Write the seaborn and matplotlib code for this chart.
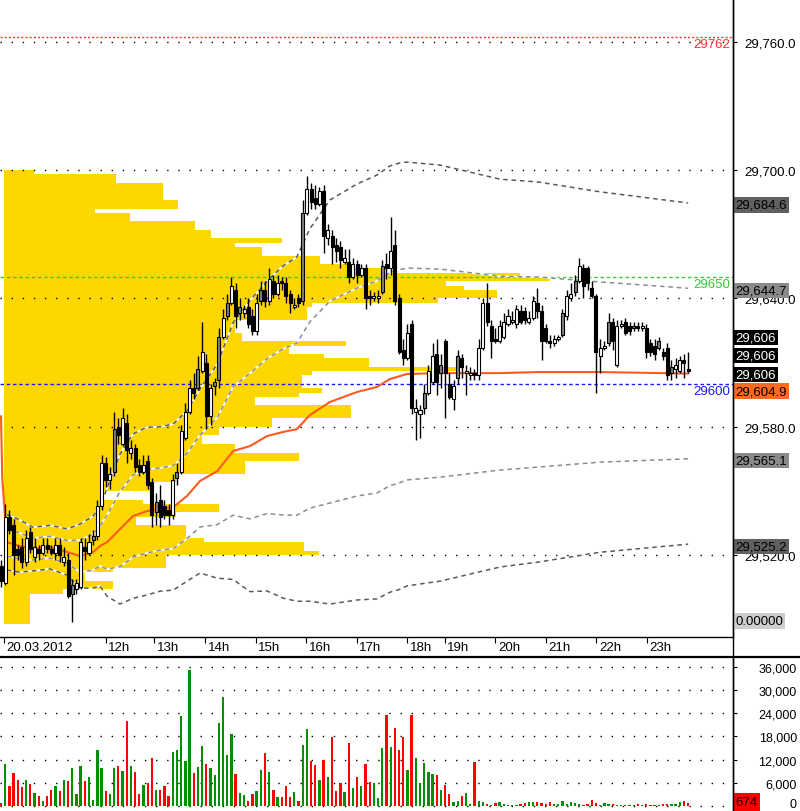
import numpy as np
import matplotlib
matplotlib.use("Agg")
import matplotlib.pyplot as plt
import matplotlib.transforms as mtransforms
from matplotlib.lines import Line2D
import seaborn as sns

# ---------------- data ----------------
bar_open = [29515, 29507, 29538, 29534, 29523, 29524, 29517, 29531, 29519, 29523,
            29521, 29525, 29523, 29521, 29525, 29517, 29518, 29502, 29504, 29505,
            29524, 29521, 29527, 29529, 29543, 29563, 29555, 29559, 29580, 29572,
            29582, 29568, 29570, 29562, 29559, 29564, 29554, 29540, 29546, 29543,
            29541, 29539, 29556, 29559, 29575, 29587, 29598, 29598, 29606, 29610,
            29585, 29599, 29602, 29622, 29632, 29638, 29644, 29633, 29633, 29636,
            29632, 29625, 29639, 29644, 29639, 29648, 29642, 29648, 29647, 29642,
            29636, 29640, 29639, 29680, 29691, 29687, 29684, 29690, 29668, 29669,
            29665, 29664, 29657, 29657, 29650, 29656, 29651, 29654, 29641, 29640,
            29640, 29643, 29656, 29654, 29665, 29640, 29616, 29612, 29628, 29587,
            29586, 29589, 29596, 29601, 29614, 29605, 29620, 29600, 29593, 29603,
            29612, 29605, 29604, 29605, 29604, 29617, 29638, 29627, 29621, 29620,
            29622, 29628, 29629, 29628, 29634, 29634, 29629, 29631, 29638, 29634,
            29626, 29620, 29619, 29621, 29623, 29632, 29640, 29643, 29648, 29654,
            29654, 29645, 29641, 29613, 29617, 29619, 29629, 29609, 29627, 29629,
            29627, 29626, 29627, 29626, 29626, 29619, 29618, 29617, 29615, 29617,
            29605, 29607, 29606, 29611, 29607]
bar_close = [29508, 29538, 29532, 29520, 29520, 29517, 29528, 29523, 29524, 29521,
             29525, 29523, 29521, 29525, 29520, 29519, 29501, 29506, 29507, 29526,
             29522, 29526, 29529, 29543, 29563, 29555, 29558, 29579, 29576, 29584,
             29569, 29570, 29561, 29559, 29562, 29553, 29539, 29545, 29538, 29539,
             29539, 29555, 29559, 29578, 29587, 29598, 29596, 29607, 29615, 29585,
             29598, 29601, 29622, 29631, 29638, 29646, 29632, 29636, 29635, 29628,
             29625, 29638, 29644, 29639, 29649, 29642, 29647, 29647, 29641, 29638,
             29637, 29638, 29680, 29691, 29685, 29684, 29690, 29669, 29672, 29664,
             29662, 29658, 29659, 29650, 29656, 29651, 29654, 29640, 29640, 29641,
             29641, 29655, 29654, 29662, 29639, 29615, 29612, 29624, 29589, 29589,
             29588, 29596, 29606, 29613, 29601, 29609, 29605, 29594, 29599, 29613,
             29608, 29606, 29605, 29604, 29617, 29638, 29629, 29620, 29620, 29627,
             29629, 29632, 29630, 29635, 29629, 29630, 29631, 29639, 29634, 29620,
             29620, 29619, 29621, 29622, 29633, 29641, 29642, 29648, 29655, 29646,
             29647, 29641, 29615, 29617, 29618, 29629, 29620, 29627, 29628, 29624,
             29625, 29627, 29626, 29627, 29615, 29615, 29614, 29620, 29613, 29604,
             29608, 29609, 29611, 29610, 29606]
bar_high = [29518, 29544, 29541, 29537, 29525, 29528, 29532, 29533, 29528, 29525,
            29528, 29528, 29525, 29528, 29528, 29524, 29521, 29509, 29509, 29528,
            29528, 29530, 29532, 29546, 29567, 29566, 29561, 29587, 29584, 29589,
            29586, 29574, 29572, 29565, 29567, 29567, 29556, 29549, 29553, 29546,
            29544, 29558, 29563, 29581, 29591, 29602, 29605, 29613, 29629, 29614,
            29600, 29603, 29626, 29635, 29642, 29650, 29647, 29640, 29637, 29640,
            29635, 29642, 29648, 29648, 29654, 29651, 29651, 29650, 29650, 29644,
            29640, 29642, 29686, 29697, 29694, 29693, 29692, 29693, 29675, 29672,
            29668, 29667, 29663, 29663, 29659, 29658, 29656, 29656, 29644, 29643,
            29644, 29658, 29661, 29678, 29672, 29642, 29621, 29628, 29630, 29593,
            29590, 29600, 29609, 29619, 29621, 29614, 29621, 29605, 29602, 29616,
            29614, 29609, 29608, 29607, 29621, 29640, 29647, 29630, 29626, 29630,
            29633, 29635, 29634, 29637, 29637, 29636, 29634, 29641, 29645, 29637,
            29628, 29623, 29623, 29623, 29635, 29644, 29647, 29651, 29659, 29656,
            29655, 29648, 29642, 29621, 29620, 29633, 29631, 29630, 29630, 29631,
            29629, 29629, 29629, 29629, 29628, 29621, 29621, 29622, 29617, 29619,
            29611, 29612, 29613, 29614, 29615]
bar_low = [29505, 29506, 29530, 29511, 29518, 29514, 29515, 29521, 29517, 29518,
           29520, 29521, 29520, 29518, 29517, 29515, 29500, 29489, 29502, 29504,
           29518, 29520, 29525, 29527, 29541, 29552, 29551, 29557, 29572, 29571,
           29563, 29565, 29559, 29557, 29558, 29551, 29533, 29534, 29533, 29537,
           29534, 29537, 29553, 29558, 29574, 29586, 29593, 29597, 29605, 29579,
           29581, 29595, 29598, 29621, 29630, 29637, 29626, 29630, 29631, 29626,
           29623, 29623, 29637, 29636, 29637, 29640, 29641, 29644, 29638, 29633,
           29635, 29636, 29637, 29679, 29682, 29682, 29683, 29661, 29665, 29656,
           29657, 29654, 29656, 29647, 29649, 29647, 29650, 29635, 29637, 29639,
           29638, 29642, 29649, 29651, 29637, 29614, 29609, 29611, 29586, 29574,
           29575, 29586, 29595, 29600, 29595, 29598, 29584, 29593, 29588, 29600,
           29603, 29595, 29602, 29602, 29602, 29616, 29627, 29612, 29619, 29619,
           29621, 29627, 29628, 29626, 29628, 29628, 29628, 29630, 29631, 29611,
           29619, 29617, 29618, 29620, 29622, 29630, 29639, 29641, 29647, 29640,
           29644, 29640, 29596, 29605, 29616, 29618, 29616, 29608, 29626, 29623,
           29623, 29625, 29625, 29625, 29612, 29613, 29611, 29616, 29611, 29602,
           29602, 29603, 29605, 29603, 29605]
bar_volume = [700, 10800, 5200, 8500, 6800, 4800, 6800, 5600, 3300, 2600,
              1300, 2600, 4200, 5200, 3900, 6800, 6500, 9700, 3000, 10200,
              6500, 7400, 1600, 14600, 9700, 3900, 3000, 9700, 10200, 9100,
              22100, 10200, 8700, 3000, 5400, 5900, 12300, 4200, 4200, 5000,
              2600, 13900, 14600, 23400, 11700, 35300, 8500, 10000, 15400, 10800,
              9700, 8000, 21500, 28400, 13200, 18600, 8200, 3300, 2800, 1300,
              3000, 3900, 9400, 13700, 8700, 4200, 2200, 2200, 5000, 2200,
              3600, 1300, 15800, 19900, 11700, 10600, 6800, 12000, 7400, 17800,
              3900, 5900, 3600, 16300, 4500, 7400, 5200, 10800, 6200, 5900,
              1900, 14900, 23600, 15200, 20100, 14600, 17800, 9400, 23600, 12300,
              5900, 11100, 8800, 8200, 8000, 4200, 5400, 3000, 1000, 1300,
              2600, 3300, 400, 11300, 1300, 1000,
              430, 170, 600, 1000, 430, 260, 260, 260, 430, 700,
              870, 870, 1000, 700, 430, 870, 430, 430, 1300, 430,
              870, 700, 430, 260, 430, 1560, 700, 260, 700, 430,
              430, 260, 260, 260, 260, 260, 430, 260, 430, 260,
              260, 260, 430, 430, 430, 430, 870, 1130, 674]

vwap_bar = [0.0, 0.3, 1.4, 4.5, 7.6, 11.7, 15.8, 18.9, 22.0, 23.6, 25.3, 28.4,
            31.5, 34.8, 37.9, 41.1, 44.4, 47.5, 51.6, 55.4, 59.4, 63.5, 67.3,
            70.6, 73.7, 78.5, 85.0, 89.7, 92.8, 95.2, 96.9, 104.8, 119.1, 128.2,
            143.0, 164.0]
vwap_value = [29585, 29556, 29526.1, 29524.3, 29522.9, 29523.8, 29521.5, 29519.6,
              29521.5, 29524.3, 29526.1, 29532.2, 29538.3, 29540.6, 29541.6,
              29542.5, 29547.7, 29554.7, 29559.3, 29568.7, 29571.0, 29575.7,
              29577.6, 29578.9, 29585.5, 29591.6, 29596.3, 29598.6, 29602.3,
              29603.7, 29604.7, 29605.1, 29605.1, 29605.6, 29605.6, 29604.9]
# standard deviation of the bands, from the third VWAP point on
band_sigma = [6.5, 6.1, 5.1, 5.1, 5.4, 7.5, 8.4, 9.3, 12.6, 17.5, 19.2, 19.6,
              19.2, 19.4, 19.9, 21.5, 25.0, 30.0, 34.0, 36.2, 38.8, 40.2, 43.5,
              47.2, 48.6, 49.5, 49.8, 49.8, 49.5, 48.6, 45.3, 44.4, 42.1, 39.85]

profile_price = np.arange(29699, 29487, -2)
profile_volume = [30, 113, 113, 160, 160, 160, 160, 175, 175, 92,
                  127, 127, 192, 192, 209, 209, 280, 233, 260, 260,
                  318, 318, 350, 383, 520, 550, 445, 463, 497, 497,
                  437, 310, 305, 305, 305, 233, 233, 233, 240, 240,
                  345, 287, 287, 322, 368, 368, 457, 310, 300, 300,
                  300, 320, 297, 253, 253, 350, 350, 350, 270, 270,
                  217, 217, 200, 200, 233, 233, 297, 297, 243, 243,
                  243, 173, 173, 150, 150, 100, 100, 140, 217, 217,
                  173, 133, 133, 183, 183, 183, 202, 302, 302, 317,
                  163, 163, 163, 110, 82, 82, 110, 110, 60, 26,
                  26, 26, 26, 26, 26, 26]

level_price = [29762, 29650, 29600]
level_label = ["29762", "29650", "29600"]

price_ticks = [29520, 29580, 29640, 29700, 29760]
volume_ticks = [0, 6000, 12000, 18000, 24000, 30000, 36000]
time_tick_bar = [0.7, 25.0, 36.6, 48.8, 60.8, 72.9, 84.9, 97.0, 105.9, 118.0,
                 130.1, 142.1, 154.2]
time_tick_label = ["20.03.2012", "12h", "13h", "14h", "15h", "16h", "17h",
                   "18h", "19h", "20h", "21h", "22h", "23h"]

last_price = 29606
band_labels = [(29684.6, "#606060"), (29644.7, "#8A8A8A"),
               (29565.1, "#8A8A8A"), (29525.2, "#606060")]

# ---------------- style ----------------
sns.set_theme(style="white")
plt.rcParams['font.family'] = ['Liberation Sans', 'DejaVu Sans']

W, H = 800, 812
fig = plt.figure(figsize=(W / 100, H / 100), dpi=100)
fig.patch.set_facecolor('white')
main_ax = fig.add_axes([0, 1 - 638 / H, 733 / W, 638 / H])
vol_ax = fig.add_axes([0, 0, 733 / W, 154 / H])

x_lim = (-0.24, 174.7)
for ax in (main_ax, vol_ax):
    ax.set_xlim(*x_lim)
    ax.set_facecolor('white')
    ax.grid(False)
    for s in ['left', 'top', 'bottom', 'right']:
        ax.spines[s].set_visible(False)
    ax.spines['right'].set_visible(True)
    ax.spines['right'].set_color('black')
    ax.spines['right'].set_linewidth(1.0)
    ax.yaxis.tick_right()

main_ax.set_ylim(29481.8, 29779.9)
main_ax.spines['bottom'].set_visible(True)
main_ax.spines['bottom'].set_color('black')
main_ax.spines['bottom'].set_linewidth(1.0)
vol_ax.set_ylim(-1378, 38673)

# ---- volume profile ----
pv = np.array(profile_volume, float)
profile_left = 0.7
profile_span = 130.3
main_ax.barh(profile_price, pv / pv.max() * profile_span, left=profile_left,
             height=2.0, color='#FFD700', linewidth=0, antialiased=False, zorder=1)

# ---- dotted grid ----
for t in price_ticks:
    main_ax.axhline(t, color='black', lw=1.0, dashes=(1, 7), zorder=2)
for t in volume_ticks:
    vol_ax.axhline(t, color='black', lw=1.0, dashes=(1, 7), zorder=1)

# ---- horizontal levels ----
level_style = [('#FF3030', (1.5, 1.5)), ('#33CC33', (2.5, 2.0)), ('#1A1AFF', (2.5, 2.0))]
for p, lab, (col, dsh) in zip(level_price, level_label, level_style):
    main_ax.axhline(p, color=col, lw=1.0, dashes=dsh, zorder=2)
    tr = mtransforms.blended_transform_factory(main_ax.transAxes, main_ax.transData)
    main_ax.annotate(lab, xy=(1.0, p), xycoords=tr, xytext=(-3, -1),
                     textcoords='offset pixels', ha='right', va='top',
                     fontsize=9.5, color=col, annotation_clip=False, zorder=7)

# ---- VWAP and deviation bands ----
vb = np.array(vwap_bar)
vv = np.array(vwap_value)
sg = np.array(band_sigma)
bx = vb[2:]
bc = vv[2:]
for k, col in [(2, '#5A5A5A'), (1, '#8C8C8C'), (-1, '#8C8C8C'), (-2, '#5A5A5A')]:
    yk = bc + k * sg
    main_ax.plot(bx, yk, color='white', lw=1.3, zorder=3)
    sns.lineplot(x=bx, y=yk, ax=main_ax, color=col, lw=1.1, sort=False,
                 estimator=None, linestyle=(0, (3, 2.5)), zorder=3)
sns.lineplot(x=vb, y=vv, ax=main_ax, color='#FF5A1F', lw=1.5, sort=False,
             estimator=None, zorder=4)

# ---- candles ----
o = np.array(bar_open, float)
c = np.array(bar_close, float)
hi = np.array(bar_high, float)
lo = np.array(bar_low, float)
n = len(o)
idx = np.arange(n)
up = c >= o
prev_close = np.r_[np.inf, c[:-1]]
grey = up & (o > prev_close)
face = np.where(~up, 'black', np.where(grey, '#808080', 'white'))
main_ax.vlines(idx, lo, hi, color='black', lw=1.0, zorder=5)
main_ax.bar(idx, np.abs(c - o), bottom=np.minimum(o, c), width=0.72,
            color=face, edgecolor='black', linewidth=0.8, zorder=6)

# ---- volume bars ----
vcol = np.where(up, '#009000', '#FF0000')
vol_ax.bar(idx, bar_volume, width=0.55, color=vcol, linewidth=0, zorder=3)

# ---- axes ticks / labels ----
main_ax.set_yticks(price_ticks)
main_ax.set_yticklabels([f"{t:,.1f}" for t in price_ticks])
main_ax.tick_params(axis='y', which='both', right=True, left=False, length=3,
                    width=0.8, pad=5.5, labelsize=9.5, colors='black',
                    labelright=True, labelleft=False)
main_ax.set_xticks(time_tick_bar)
main_ax.set_xticklabels([''] * len(time_tick_bar))
main_ax.tick_params(axis='x', bottom=True, length=4, width=0.8, direction='out',
                    colors='black')
main_ax.set_xlabel('')
main_ax.set_ylabel('')

trans_t = mtransforms.blended_transform_factory(main_ax.transData, main_ax.transAxes)
for pos, lab in zip(time_tick_bar, time_tick_label):
    main_ax.annotate(lab, xy=(pos, 0), xycoords=trans_t, xytext=(2.5, -10),
                     textcoords='offset pixels', ha='left', va='center',
                     fontsize=9.5, color='black', annotation_clip=False)

vol_ax.set_yticks(volume_ticks)
vol_ax.set_yticklabels(["0" if t == 0 else f"{t:,}" for t in volume_ticks])
vol_ax.tick_params(axis='y', which='both', right=True, left=False, length=3,
                   width=0.8, pad=43, labelsize=9, colors='black',
                   labelright=True, labelleft=False)
for lbl in vol_ax.get_yticklabels():
    lbl.set_horizontalalignment('right')
    lbl.set_verticalalignment('center_baseline')
# lift the bottom "0" a little so it stays inside the picture
zero_lbl = vol_ax.get_yticklabels()[0]
zero_lbl.set_transform(zero_lbl.get_transform() +
                       mtransforms.ScaledTranslation(0, 3 / 100, fig.dpi_scale_trans))
vol_ax.set_xticks([])
vol_ax.set_xlabel('')
vol_ax.set_ylabel('')


def value_box(ax, yval, text, fc, tc, dy_px=0.0, y_in_axes=False, pad=0.12):
    tr = mtransforms.blended_transform_factory(
        ax.transAxes, ax.transAxes if y_in_axes else ax.transData)
    ax.annotate(text, xy=(1.0, yval), xycoords=tr, xytext=(2.5, -dy_px),
                textcoords='offset pixels', ha='left', va='center',
                fontsize=9.5, color=tc,
                bbox=dict(boxstyle=f'square,pad={pad}', fc=fc, ec='none'),
                annotation_clip=False, zorder=10)


for val, col in band_labels:
    value_box(main_ax, val, f"{val:,.1f}", col, 'black', dy_px=2)
value_box(main_ax, last_price, f"{last_price:,}", 'black', 'white', dy_px=3)
value_box(main_ax, last_price, f"{last_price:,}", 'black', 'white', dy_px=-16)
value_box(main_ax, last_price, f"{last_price:,}", 'black', 'white', dy_px=-34)
value_box(main_ax, vwap_value[-1], f"{vwap_value[-1]:,.1f}", '#FF6A20', 'black', dy_px=17.5)
value_box(main_ax, 0.0251, "0.00000", '#CCCCCC', 'black', y_in_axes=True)
value_box(vol_ax, bar_volume[-1], f"{bar_volume[-1]}", '#FF0000', 'black',
          dy_px=-1, pad=0.2)

# ---- frame lines spanning the whole figure ----
fig.add_artist(Line2D([0, 1], [1 - 658 / H] * 2, transform=fig.transFigure,
                      color='black', lw=1.6))
fig.add_artist(Line2D([733 / W] * 2, [0, 1], transform=fig.transFigure,
                      color='black', lw=1.0))

fig.savefig('out.png', dpi=100, facecolor='white')
